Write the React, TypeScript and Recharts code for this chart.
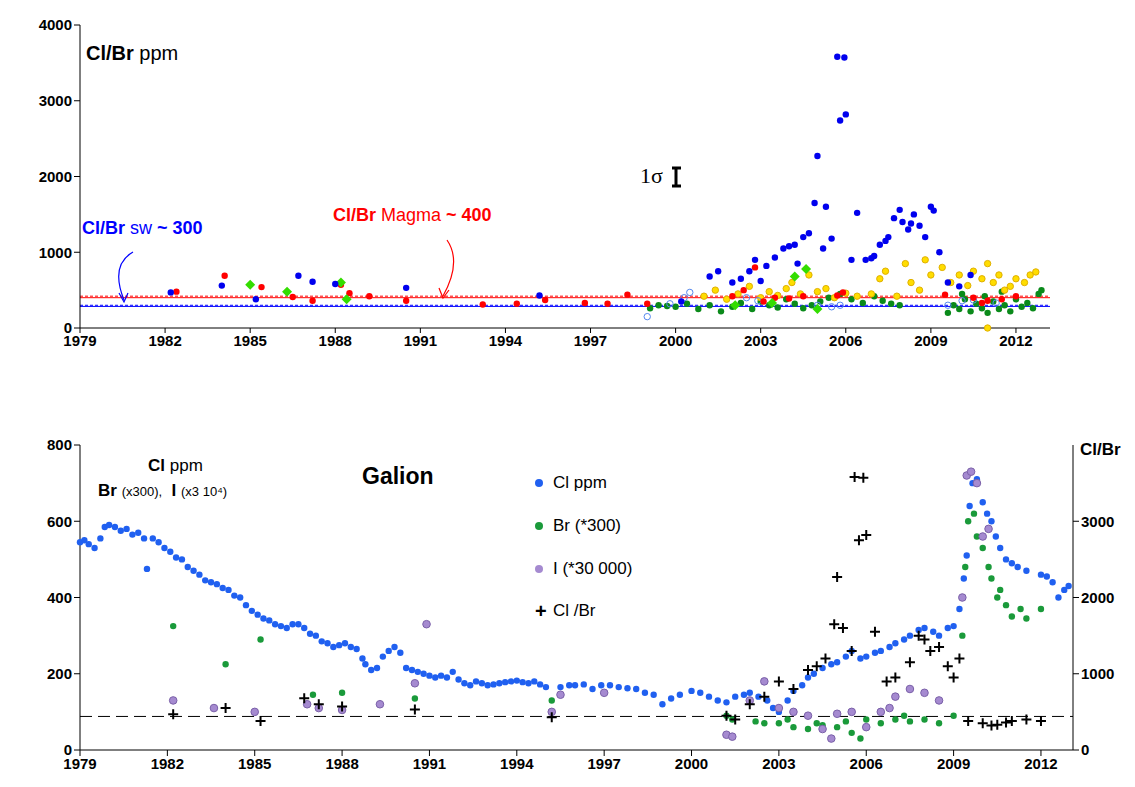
import React from 'react';
import {
  ScatterChart,
  Scatter,
  XAxis,
  YAxis,
  ReferenceLine,
} from 'recharts';

// ---- top panel: Cl/Br ppm by source ----
const topBlue = [
  [1982.2, 470], [1984, 560], [1985.2, 380], [1986.7, 690], [1987.2, 610], [1988, 580], [1990.5, 530],
  [1995.2, 430], [2000.2, 350], [2001.2, 680], [2001.5, 750], [2002, 600], [2002.3, 650], [2002.6, 750],
  [2002.8, 900], [2003.2, 820], [2003.5, 930], [2003.8, 1050], [2004, 1080], [2004.2, 1100], [2004.5, 1200],
  [2004.7, 1250], [2004.9, 1650], [2005, 2270], [2005.3, 1600], [2005.5, 1180], [2005.7, 3580], [2005.8, 2740],
  [2005.95, 3570], [2006, 2820], [2006.4, 1520], [2006.7, 900], [2006.9, 920], [2007, 950], [2007.2, 1100],
  [2007.4, 1150], [2007.5, 1200], [2007.7, 1450], [2007.9, 1560], [2008, 1400], [2008.2, 1300], [2008.3, 1380],
  [2008.4, 1500], [2008.6, 1350], [2008.8, 1200], [2009, 1600], [2009.1, 1550], [2009.3, 1000], [2009.6, 600],
  [2010, 550], [2010.4, 700], [2003, 620], [2004.3, 850], [2005.2, 1050], [2006.2, 900],
];
const topRed = [
  [1982.4, 480], [1984.1, 690], [1985.4, 540], [1986.5, 410], [1987.2, 360], [1988.2, 570], [1988.5, 460],
  [1989.2, 420], [1990.5, 360], [1993.2, 310], [1994.4, 320], [1995.4, 370], [1996.8, 330], [1997.6, 320],
  [1998.3, 440], [1999, 320], [2002, 420], [2002.8, 800], [2003.1, 350], [2003.5, 400], [2004.5, 420],
  [2005.7, 430], [2005.9, 470], [2009.5, 440], [2010.5, 400], [2010.8, 330], [2011, 360], [2011.5, 380],
  [2012, 420], [2002.4, 500], [2004, 390],
];
const topGreen = [
  [1999.1, 260], [1999.4, 300], [1999.7, 290], [2000, 280], [2000.4, 320], [2000.8, 250], [2001.2, 300],
  [2001.6, 220], [2002, 280], [2002.3, 330], [2002.7, 250], [2003, 350], [2003.3, 300], [2003.6, 270],
  [2003.9, 380], [2004.2, 320], [2004.5, 260], [2004.8, 300], [2005.1, 350], [2005.4, 400], [2005.8, 450],
  [2006.2, 380], [2006.6, 330], [2007, 420], [2007.3, 360], [2007.6, 320], [2007.9, 300], [2009.6, 200],
  [2009.8, 300], [2010, 250], [2010.2, 380], [2010.4, 220], [2010.6, 320], [2010.8, 260], [2011, 200],
  [2011.2, 350], [2011.4, 250], [2011.6, 300], [2011.8, 220], [2012, 380], [2012.2, 280], [2012.4, 330],
  [2012.6, 260], [2012.8, 450], [2012.9, 500], [2010.1, 450], [2010.9, 420], [2011.5, 480],
];
const topDiamond = [
  [1985, 570], [1986.3, 480], [1988.2, 600], [1988.4, 380], [2002.1, 300], [2003.4, 330], [2004.2, 680],
  [2004.6, 780], [2005, 250],
];
const topYellow = [
  [2001, 420], [2001.4, 500], [2001.8, 380], [2002.2, 450], [2002.6, 550], [2003, 400], [2003.3, 480],
  [2003.6, 430], [2003.9, 520], [2004.1, 600], [2004.4, 450], [2004.7, 700], [2005, 480], [2005.3, 520],
  [2005.6, 400], [2006, 460], [2006.4, 420], [2006.9, 450], [2007.2, 650], [2007.4, 750], [2007.8, 420],
  [2008.1, 850], [2008.3, 600], [2008.6, 500], [2008.8, 900], [2009, 700], [2009.4, 800], [2009.7, 600],
  [2010, 700], [2010.3, 560], [2010.5, 750], [2010.8, 650], [2011, 850], [2011.2, 600], [2011.4, 700],
  [2011.6, 500], [2011.8, 550], [2012, 650], [2012.3, 600], [2012.5, 700], [2012.7, 740], [2011, 0],
];
const topOpen = [
  [1999, 150], [1999.8, 320], [2000.3, 400], [2000.5, 470], [2002.5, 400], [2002.9, 360], [2005, 300],
  [2005.5, 280], [2005.8, 300], [2009.6, 300], [2010.1, 360], [2010.5, 370], [2011.3, 330],
];

// ---- bottom panel: Galion ----
const clPpm = [
  [1979, 545], [1979.15, 550], [1979.3, 540], [1979.5, 530], [1979.7, 555], [1979.85, 585], [1980, 590],
  [1980.2, 585], [1980.4, 575], [1980.6, 580], [1980.8, 565], [1981, 570], [1981.2, 555], [1981.3, 475],
  [1981.5, 555], [1981.7, 545], [1981.9, 530], [1982.1, 520], [1982.3, 505], [1982.5, 500], [1982.7, 480],
  [1982.9, 470], [1983.1, 460], [1983.3, 445], [1983.5, 440], [1983.7, 435], [1983.9, 425], [1984.1, 420],
  [1984.3, 405], [1984.5, 400], [1984.7, 380], [1984.9, 365], [1985.1, 355], [1985.3, 345], [1985.5, 340],
  [1985.7, 330], [1985.9, 325], [1986.1, 320], [1986.3, 330], [1986.5, 330], [1986.7, 320], [1986.9, 305],
  [1987.1, 300], [1987.3, 285], [1987.5, 280], [1987.7, 270], [1987.9, 275], [1988.1, 280], [1988.3, 270],
  [1988.5, 265], [1988.7, 240], [1988.8, 225], [1989, 210], [1989.2, 215], [1989.4, 245], [1989.6, 260],
  [1989.8, 270], [1990, 255], [1990.2, 215], [1990.4, 210], [1990.6, 205], [1990.8, 200], [1991, 195],
  [1991.2, 190], [1991.4, 195], [1991.6, 190], [1991.8, 205], [1992, 185], [1992.2, 175], [1992.4, 170],
  [1992.6, 180], [1992.8, 175], [1993, 170], [1993.2, 172], [1993.4, 175], [1993.6, 178], [1993.8, 180],
  [1994, 182], [1994.2, 178], [1994.4, 175], [1994.6, 180], [1994.8, 172], [1995, 165], [1995.5, 165],
  [1995.8, 170], [1996, 170], [1996.3, 172], [1996.6, 160], [1996.9, 170], [1997.2, 170], [1997.5, 165],
  [1997.8, 162], [1998.1, 160], [1998.4, 150], [1998.7, 145], [1999, 120], [1999.3, 135], [1999.6, 145],
  [2000, 155], [2000.3, 150], [2000.6, 140], [2000.9, 130], [2001.2, 125], [2001.5, 140], [2001.8, 145],
  [2002, 150], [2002.3, 140], [2002.6, 130], [2002.8, 110], [2003, 100], [2003.3, 130], [2003.5, 155],
  [2003.8, 170], [2004, 190], [2004.2, 200], [2004.5, 215], [2004.8, 225], [2005, 230], [2005.3, 245],
  [2005.5, 260], [2005.8, 240], [2006, 245], [2006.3, 255], [2006.5, 260], [2006.8, 270], [2007, 280],
  [2007.3, 290], [2007.5, 300], [2007.8, 315], [2008, 320], [2008.3, 310], [2008.5, 300], [2008.8, 320],
  [2009, 325], [2009.2, 370], [2009.35, 450], [2009.45, 510], [2009.55, 640], [2009.65, 700], [2009.8, 710],
  [2010, 650], [2010.15, 620], [2010.3, 600], [2010.45, 560], [2010.6, 530], [2010.8, 500], [2011, 490],
  [2011.2, 480], [2011.5, 470], [2012, 460], [2012.2, 455], [2012.4, 440], [2012.6, 400], [2012.8, 420],
  [2012.95, 430],
];
const brPpm = [
  [1982.2, 325], [1984, 225], [1985.2, 290], [1987, 145], [1988, 150], [1990.5, 135], [1995.2, 130],
  [2001.2, 90], [2001.4, 80], [2002.2, 75], [2002.5, 70], [2003, 70], [2003.3, 80], [2003.5, 60], [2004, 55],
  [2004.3, 70], [2004.5, 65], [2005, 60], [2005.3, 75], [2005.5, 45], [2005.8, 30], [2006, 80], [2006.5, 70],
  [2007, 80], [2007.3, 90], [2007.5, 75], [2008, 80], [2008.5, 70], [2009, 90], [2009.3, 300], [2009.4, 480],
  [2009.5, 600], [2009.7, 620], [2009.8, 560], [2010, 530], [2010.2, 480], [2010.3, 450], [2010.5, 400],
  [2010.6, 420], [2010.8, 380], [2011, 350], [2011.3, 370], [2011.5, 345], [2012, 370],
];
const iPpm = [
  [1982.2, 130], [1983.6, 110], [1985, 100], [1986.8, 120], [1987.2, 110], [1988, 105], [1989.3, 120],
  [1990.5, 175], [1990.9, 330], [1995.2, 100], [1995.5, 145], [1997, 150], [2001.2, 40], [2001.4, 35],
  [2002, 130], [2002.5, 180], [2003, 110], [2003.5, 100], [2004, 90], [2004.5, 55], [2004.8, 30], [2005, 95],
  [2005.5, 100], [2006, 60], [2006.5, 100], [2006.8, 110], [2007, 140], [2007.5, 160], [2008, 150],
  [2008.5, 130], [2009.3, 400], [2009.45, 720], [2009.6, 730], [2009.8, 700], [2010, 560], [2010.2, 580],
];
const clBr = [
  [1982.2, 470], [1984, 550], [1985.2, 380], [1986.7, 680], [1987.2, 600], [1988, 570], [1990.5, 530],
  [1995.2, 430], [2001.2, 450], [2001.5, 400], [2002, 600], [2002.5, 700], [2003, 900], [2003.5, 800],
  [2004, 1050], [2004.3, 1100], [2004.6, 1200], [2004.9, 1650], [2005, 2270], [2005.2, 1600], [2005.5, 1300],
  [2005.6, 3580], [2005.9, 3570], [2005.75, 2750], [2006, 2820], [2006.3, 1550], [2006.7, 900], [2007, 950],
  [2007.5, 1150], [2007.8, 1500], [2008, 1450], [2008.2, 1300], [2008.5, 1350], [2008.8, 1100], [2009, 950],
  [2009.2, 1200], [2009.5, 380], [2010, 350], [2010.3, 320], [2010.5, 330], [2010.8, 360], [2011, 380],
  [2011.5, 400], [2012, 380],
];

const yearTicks = [1979, 1982, 1985, 1988, 1991, 1994, 1997, 2000, 2003, 2006, 2009, 2012];
const topYTicks = [0, 1000, 2000, 3000, 4000];
const botYTicks = [0, 200, 400, 600, 800];
const botRTicks = [0, 1000, 2000, 3000];

const toPts = (a: number[][]) => a.map(([x, y]) => ({ x, y }));

const dot = (fill: string, stroke = 'none', r = 3.2) => (p: any) =>
  <circle cx={p.cx} cy={p.cy} r={r} fill={fill} stroke={stroke} strokeWidth={1} />;
const diamond = (p: any) =>
  <path d={`M${p.cx},${p.cy - 5}L${p.cx + 5},${p.cy}L${p.cx},${p.cy + 5}L${p.cx - 5},${p.cy}Z`} fill="#33dd00" />;
const plus = (p: any) =>
  <path d={`M${p.cx - 5},${p.cy}H${p.cx + 5}M${p.cx},${p.cy - 5}V${p.cy + 5}`} stroke="#000" strokeWidth={2} />;

const tickStyle = { fontSize: 15, fontWeight: 700, fill: '#000', fontFamily: 'Liberation Sans, Arial' };
const txt: React.CSSProperties = { position: 'absolute', fontFamily: 'Liberation Sans, Arial', whiteSpace: 'nowrap' };

export default function App() {
  return (
    <div style={{ position: 'relative', width: 1135, height: 787, margin: -8, background: '#fff' }}>
      <div style={{ position: 'absolute', left: 0, top: 0 }}>
        <ScatterChart width={1135} height={360} margin={{ top: 25, right: 85, left: 20, bottom: 2 }}>
          <XAxis type="number" dataKey="x" domain={[1979, 2013.2]} ticks={yearTicks} tick={tickStyle}
            stroke="#000" height={30} tickSize={5} />
          <XAxis xAxisId="t" type="number" dataKey="x" orientation="top" domain={[1979, 2013.2]} tick={false}
            tickLine={false} stroke="#000" height={0} />
          <YAxis type="number" dataKey="y" domain={[0, 4000]} ticks={topYTicks} tick={tickStyle} stroke="#000" width={60} />
          <YAxis yAxisId="r" type="number" dataKey="y" orientation="right" domain={[0, 4000]} tick={false}
            tickLine={false} stroke="#000" width={0} />
          <ReferenceLine y={420} stroke="#ff0000" strokeDasharray="3 2" />
          <ReferenceLine y={400} stroke="#ff0000" />
          <ReferenceLine y={300} stroke="#0000ff" strokeDasharray="3 2" />
          <ReferenceLine y={285} stroke="#0000ff" />
          <Scatter data={toPts(topGreen)} shape={dot('#0a8a1a')} isAnimationActive={false} />
          <Scatter data={toPts(topYellow)} shape={dot('#ffdd00', '#e0b000')} isAnimationActive={false} />
          <Scatter data={toPts(topOpen)} shape={dot('none', '#5588ee')} isAnimationActive={false} />
          <Scatter data={toPts(topRed)} shape={dot('#ff0000')} isAnimationActive={false} />
          <Scatter data={toPts(topDiamond)} shape={diamond} isAnimationActive={false} />
          <Scatter data={toPts(topBlue)} shape={dot('#0000ee')} isAnimationActive={false} />
        </ScatterChart>
      </div>
      <div style={{ position: 'absolute', left: 0, top: 420 }}>
        <ScatterChart width={1135} height={367} margin={{ top: 25, right: 12, left: 20, bottom: 7 }}>
          <XAxis type="number" dataKey="x" domain={[1979, 2013.1]} ticks={yearTicks} tick={tickStyle}
            stroke="#000" height={30} />
          <XAxis xAxisId="t" type="number" dataKey="x" orientation="top" domain={[1979, 2013.1]} tick={false}
            tickLine={false} stroke="#000" height={0} />
          <YAxis type="number" dataKey="y" domain={[0, 800]} ticks={botYTicks} tick={tickStyle} stroke="#000" width={60} />
          <YAxis yAxisId="r" type="number" dataKey="y" orientation="right" domain={[0, 4000]} ticks={botRTicks}
            tick={tickStyle} stroke="#000" width={50} />
          <ReferenceLine y={88} stroke="#000" strokeDasharray="12 6" />
          <Scatter data={toPts(clPpm)} shape={dot('#2060f0')} isAnimationActive={false} />
          <Scatter data={toPts(brPpm)} shape={dot('#1a9a3a')} isAnimationActive={false} />
          <Scatter data={toPts(iPpm)} shape={dot('#a58ad0', '#7a60a8', 3.8)} isAnimationActive={false} />
          <Scatter yAxisId="r" data={toPts(clBr)} shape={plus} isAnimationActive={false} />
        </ScatterChart>
      </div>
      <svg width={1135} height={787} style={{ position: 'absolute', left: 0, top: 0, pointerEvents: 'none' }}>
        <path d="M676,168V186M672,168H681M672,186H681" stroke="#000" strokeWidth={3} />
        <path d="M133,252 Q110,265 124,300" stroke="#0000ff" fill="none" strokeWidth={1.2} />
        <path d="M119,293 L124,302 L128,293" stroke="#0000ff" fill="none" strokeWidth={1.2} />
        <path d="M447,240 Q462,262 443,296" stroke="#ff0000" fill="none" strokeWidth={1.2} />
        <path d="M439,288 L443,298 L449,290" stroke="#ff0000" fill="none" strokeWidth={1.2} />
      </svg>
      <div style={{ ...txt, left: 86, top: 42, fontSize: 20 }}><b>Cl/Br</b> ppm</div>
      <div style={{ ...txt, left: 640, top: 163, fontSize: 22, fontFamily: 'Liberation Serif' }}>1σ</div>
      <div style={{ ...txt, left: 82, top: 218, fontSize: 18, color: '#0000ff', fontWeight: 700 }}>
        Cl/Br <span style={{ fontWeight: 400 }}>sw</span> ~ 300</div>
      <div style={{ ...txt, left: 333, top: 205, fontSize: 18, color: '#ff0000', fontWeight: 700 }}>
        Cl/Br <span style={{ fontWeight: 400 }}>Magma</span> ~ 400</div>
      <div style={{ ...txt, left: 148, top: 456, fontSize: 17 }}><b>Cl</b> ppm</div>
      <div style={{ ...txt, left: 98, top: 481, fontSize: 17 }}><b>Br</b> <span style={{ fontSize: 13 }}>(x300),</span>
        &nbsp;&nbsp;<b>I</b> <span style={{ fontSize: 13 }}>(x3 10⁴)</span></div>
      <div style={{ ...txt, left: 362, top: 463, fontSize: 23, fontWeight: 700 }}>Galion</div>
      <div style={{ ...txt, left: 1080, top: 440, fontSize: 17, fontWeight: 700 }}>Cl/Br</div>
      {[
        ['#2060f0', 'Cl ppm', 473],
        ['#1a9a3a', 'Br (*300)', 516],
        ['#a58ad0', 'I (*30 000)', 559],
        ['plus', 'Cl /Br', 601],
      ].map(([c, label, top]) => (
        <div key={label as string} style={{ ...txt, left: 535, top: top as number, fontSize: 17, display: 'flex', alignItems: 'center' }}>
          {c === 'plus'
            ? <span style={{ width: 14, fontWeight: 700, fontSize: 20, lineHeight: '20px' }}>+</span>
            : <span style={{ width: 8, height: 8, borderRadius: 4, background: c as string, marginRight: 6 }} />}
          <span style={{ marginLeft: 4 }}>{label}</span>
        </div>
      ))}
    </div>
  );
}
